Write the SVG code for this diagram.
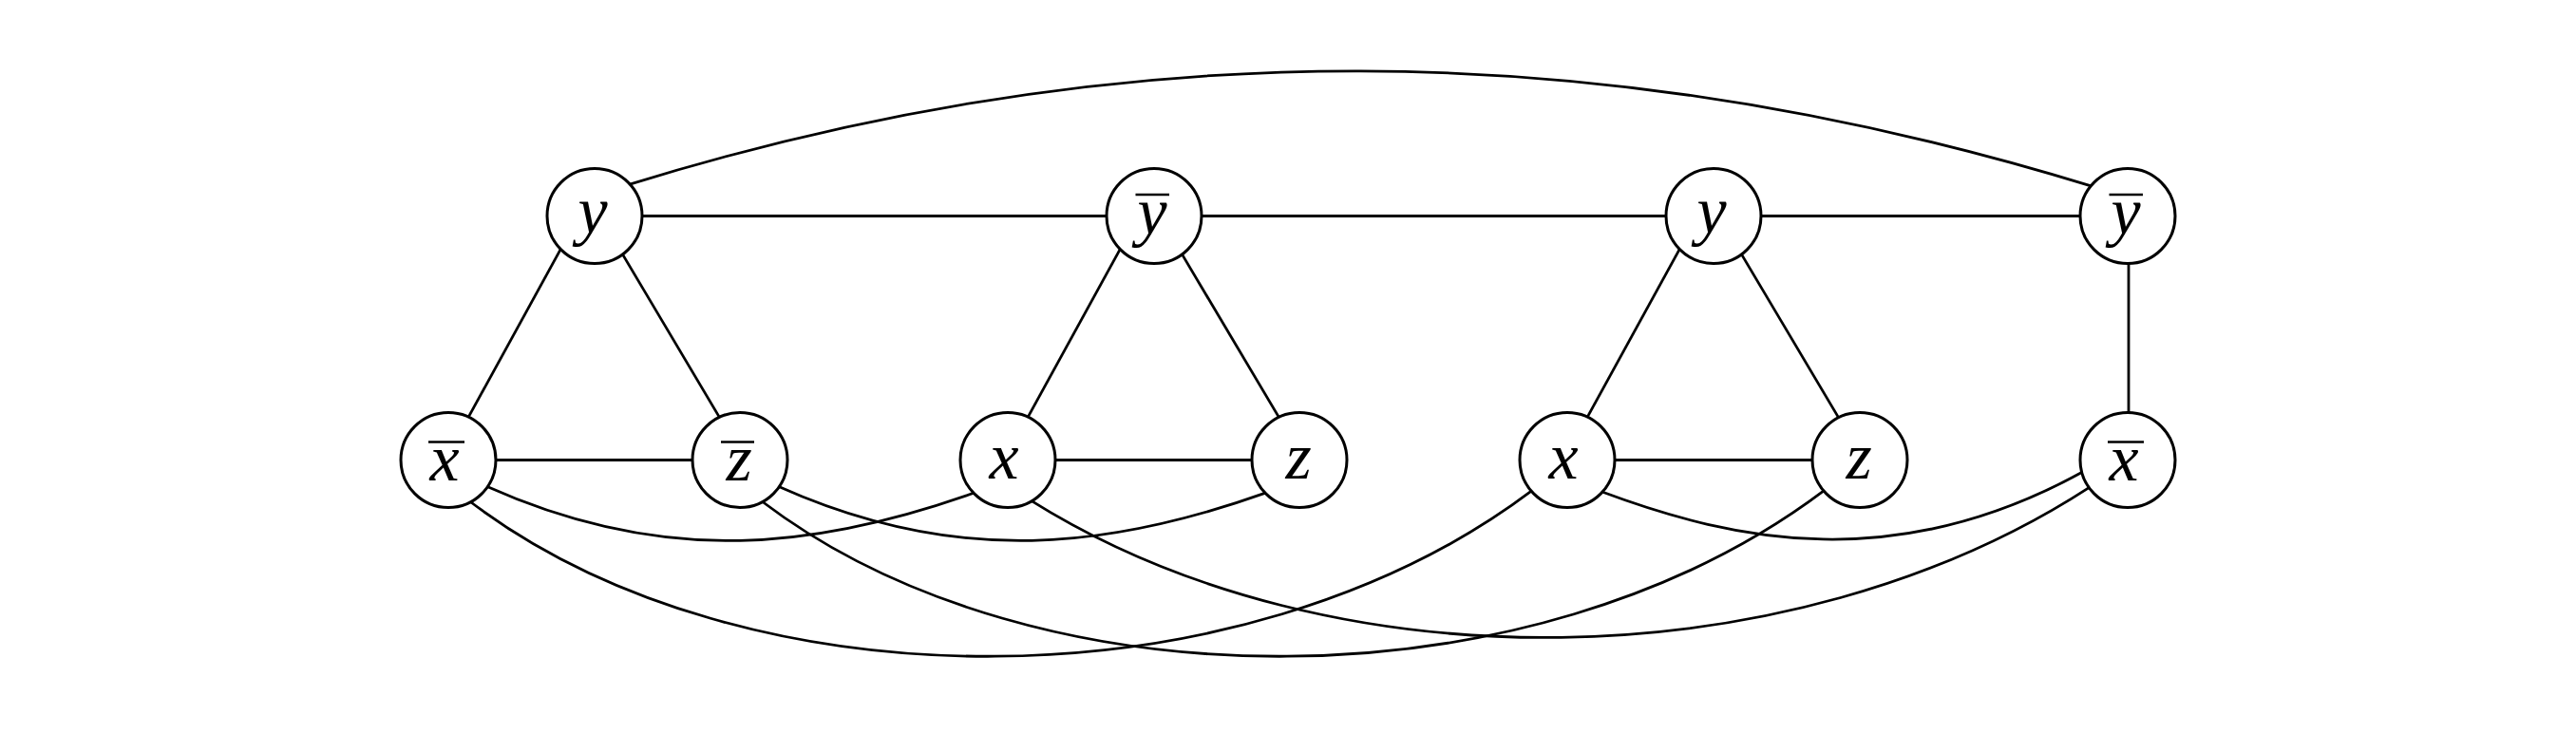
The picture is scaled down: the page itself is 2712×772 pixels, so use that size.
<svg xmlns="http://www.w3.org/2000/svg" width="2712" height="772" viewBox="0 0 2712 772">
<style>
.edge{fill:none;stroke:#000;stroke-width:2.8;stroke-linecap:butt}
.node circle{fill:#fff;stroke:#000;stroke-width:3}
.lbl{font-family:"Liberation Serif","DejaVu Serif",serif;font-style:italic;font-size:70px;text-anchor:middle;fill:#000}
.bar{stroke:#000;stroke-width:2.4}
</style>
<rect width="2712" height="772" fill="#fff"/>
<g id="connectors">
<line class="edge" x1="626" y1="227.5" x2="1215" y2="227.5"/>
<line class="edge" x1="1215" y1="227.5" x2="1804" y2="227.5"/>
<line class="edge" x1="1804" y1="227.5" x2="2240" y2="227.5"/>
<line class="edge" x1="2241" y1="227.5" x2="2241" y2="484.5"/>
<line class="edge" x1="590.7" y1="261.6" x2="492.6" y2="440.4"/>
<line class="edge" x1="654.9" y1="266.9" x2="759" y2="442.1"/>
<line class="edge" x1="472" y1="484.5" x2="779" y2="484.5"/>
<line class="edge" x1="1179.7" y1="261.6" x2="1081.6" y2="440.4"/>
<line class="edge" x1="1243.9" y1="266.9" x2="1348" y2="442.1"/>
<line class="edge" x1="1061" y1="484.5" x2="1368" y2="484.5"/>
<line class="edge" x1="1768.7" y1="261.6" x2="1670.6" y2="440.4"/>
<line class="edge" x1="1832.9" y1="266.9" x2="1937" y2="442.1"/>
<line class="edge" x1="1650" y1="484.5" x2="1958" y2="484.5"/>
<path class="edge" d="M662.1,194.3 C1183.2,33.4 1681.8,36 2202.3,196.2"/>
<path class="edge" d="M512.4,512.2 C702.3,597.4 862.6,577.1 1026.1,518.9"/>
<path class="edge" d="M819.4,512.2 C1009.3,597.4 1169.6,577.1 1333.1,518.9"/>
<path class="edge" d="M1686,517.8 C1829.3,571.3 1995.8,605 2192.6,497.1"/>
<path class="edge" d="M494.6,528 C783.5,747.4 1307,747.6 1612.9,516.7"/>
<path class="edge" d="M802.1,528 C1091,747.4 1614.5,747.6 1920.4,516.7"/>
<path class="edge" d="M1085.3,527.1 C1402,725.8 1885.4,717.6 2200,513.1"/>
</g>
<g id="n-y1" class="node"><circle cx="626" cy="227.5" r="50"/><text class="lbl" x="624" y="245">y</text></g>
<g id="n-ybar1" class="node"><circle cx="1215" cy="227.5" r="50"/><text class="lbl" x="1213" y="246">y</text><line class="bar" x1="1195.5" y1="205" x2="1231" y2="205"/></g>
<g id="n-y2" class="node"><circle cx="1804" cy="227.5" r="50"/><text class="lbl" x="1802" y="245">y</text></g>
<g id="n-ybar2" class="node"><circle cx="2240" cy="227.5" r="50"/><text class="lbl" x="2238" y="246">y</text><line class="bar" x1="2220.5" y1="205" x2="2256" y2="205"/></g>
<g id="n-xbar1" class="node"><circle cx="472" cy="484.5" r="50"/><text class="lbl" x="468" y="506">x</text><line class="bar" x1="451" y1="465.5" x2="489" y2="465.5"/></g>
<g id="n-zbar1" class="node"><circle cx="779" cy="484.5" r="50"/><text class="lbl" x="778" y="505.5">z</text><line class="bar" x1="759" y1="465.5" x2="794" y2="465.5"/></g>
<g id="n-x1" class="node"><circle cx="1061" cy="484.5" r="50"/><text class="lbl" x="1057" y="503.5">x</text></g>
<g id="n-z1" class="node"><circle cx="1368" cy="484.5" r="50"/><text class="lbl" x="1367" y="503.5">z</text></g>
<g id="n-x2" class="node"><circle cx="1650" cy="484.5" r="50"/><text class="lbl" x="1646" y="503.5">x</text></g>
<g id="n-z2" class="node"><circle cx="1958" cy="484.5" r="50"/><text class="lbl" x="1957" y="503.5">z</text></g>
<g id="n-xbar2" class="node"><circle cx="2240" cy="484.5" r="50"/><text class="lbl" x="2236" y="506">x</text><line class="bar" x1="2219" y1="465.5" x2="2257" y2="465.5"/></g>
</svg>
